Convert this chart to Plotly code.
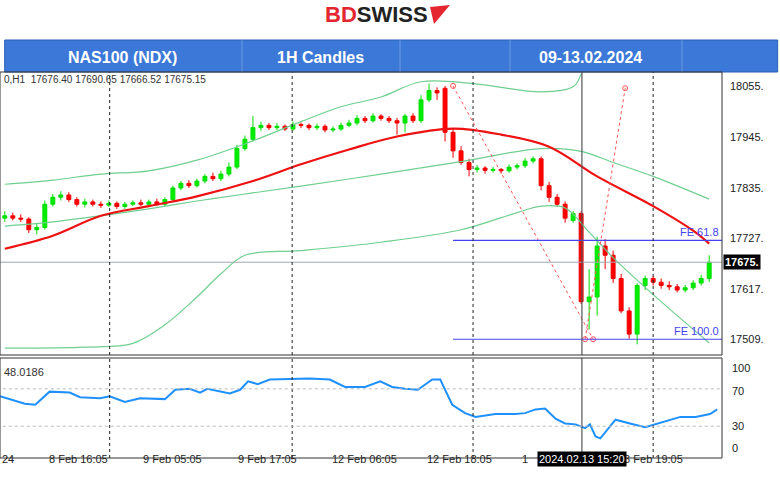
import plotly.graph_objects as go

# ---- candle data (open, high, low, close), 1H NAS100 ----
candles = [
    (17770, 17785, 17762, 17775), (17775, 17782, 17765, 17770), (17770, 17778, 17762, 17768),
    (17768, 17772, 17738, 17745), (17745, 17758, 17735, 17750), (17750, 17808, 17745, 17800),
    (17800, 17822, 17795, 17815), (17815, 17828, 17808, 17820), (17820, 17826, 17805, 17810),
    (17810, 17815, 17795, 17800), (17800, 17812, 17793, 17805), (17805, 17810, 17795, 17800),
    (17800, 17806, 17792, 17798), (17798, 17808, 17794, 17802), (17802, 17806, 17790, 17795),
    (17795, 17805, 17790, 17800), (17800, 17808, 17796, 17803), (17803, 17810, 17796, 17800),
    (17800, 17810, 17795, 17805), (17805, 17812, 17796, 17800), (17800, 17815, 17796, 17810),
    (17810, 17840, 17806, 17835), (17835, 17850, 17830, 17845), (17845, 17852, 17835, 17840),
    (17840, 17855, 17836, 17850), (17850, 17865, 17845, 17860), (17860, 17868, 17850, 17855),
    (17855, 17872, 17850, 17865), (17865, 17890, 17860, 17880), (17880, 17928, 17876, 17920),
    (17920, 17948, 17915, 17940), (17940, 17990, 17935, 17965), (17965, 17978, 17958, 17970),
    (17970, 17975, 17960, 17965), (17965, 17975, 17960, 17968), (17968, 17972, 17958, 17962),
    (17962, 17978, 17958, 17972), (17972, 17976, 17964, 17970), (17970, 17974, 17960, 17965),
    (17965, 17974, 17960, 17968), (17968, 17972, 17955, 17960), (17960, 17968, 17955, 17962),
    (17962, 17976, 17958, 17970), (17970, 17982, 17966, 17975), (17975, 17992, 17970, 17985),
    (17985, 17990, 17975, 17980), (17980, 17996, 17976, 17990), (17990, 17994, 17980, 17985),
    (17985, 17990, 17975, 17980), (17980, 17986, 17950, 17975), (17975, 17995, 17955, 17990),
    (17990, 17996, 17975, 17980), (17980, 18035, 17975, 18025), (18025, 18060, 18020, 18045),
    (18045, 18052, 18025, 18040), (18050, 18055, 17935, 17955), (17955, 17962, 17900, 17915),
    (17915, 17925, 17885, 17890), (17890, 17898, 17860, 17875), (17875, 17885, 17868, 17878),
    (17878, 17882, 17866, 17873), (17873, 17880, 17868, 17875), (17875, 17878, 17866, 17872),
    (17872, 17886, 17868, 17880), (17880, 17888, 17875, 17883), (17883, 17900, 17878, 17893),
    (17893, 17903, 17888, 17898), (17898, 17903, 17830, 17840), (17840, 17848, 17805, 17815),
    (17815, 17822, 17795, 17800), (17800, 17806, 17760, 17770), (17765, 17785, 17760, 17780),
    (17780, 17785, 17585, 17590), (17590, 17660, 17530, 17600), (17600, 17730, 17560, 17710),
    (17710, 17725, 17660, 17690), (17690, 17700, 17630, 17640), (17640, 17650, 17565, 17570),
    (17570, 17578, 17510, 17520), (17520, 17630, 17498, 17625), (17625, 17646, 17615, 17640),
    (17640, 17645, 17625, 17632), (17632, 17640, 17618, 17625), (17625, 17634, 17615, 17622),
    (17622, 17628, 17610, 17615), (17615, 17626, 17610, 17620), (17620, 17636, 17615, 17630),
    (17630, 17648, 17625, 17640), (17640, 17690, 17632, 17675),
]
opens = [c[0] for c in candles]
highs = [c[1] for c in candles]
lows = [c[2] for c in candles]
closes = [c[3] for c in candles]
idx = list(range(len(candles)))

# moving average (red) and bollinger bands (green), sampled at bar indices
ma_x = [0, 6, 12, 18, 24, 31, 37, 43, 49, 56, 62, 68, 74, 81, 86, 88]
ma_y = [17704, 17732, 17775, 17796, 17817, 17850, 17886, 17918, 17946, 17963, 17950, 17924, 17860, 17796, 17743, 17715]
bb_up_x = [0, 6, 12, 18, 24, 30, 37, 42, 47, 52, 59, 67, 71, 72]
bb_up_y = [17843, 17852, 17865, 17872, 17895, 17930, 17978, 18010, 18031, 18064, 18059, 18042, 18053, 18081]
bb_mid_x = [0, 6, 12, 18, 24, 30, 37, 47, 57, 67, 72, 76, 81, 88]
bb_mid_y = [17753, 17762, 17775, 17790, 17807, 17822, 17839, 17865, 17892, 17920, 17914, 17890, 17860, 17811]
bb_low_x = [0, 10, 16, 20, 24, 27, 30, 37, 47, 57, 64, 67, 70, 73, 76, 82, 88]
bb_low_y = [17490, 17492, 17500, 17540, 17600, 17650, 17690, 17700, 17718, 17745, 17782, 17796, 17792, 17740, 17685, 17590, 17501]

# fibonacci expansion
fe_levels = [17722, 17509]
fe_labels = ["FE 61.8", "FE 100.0"]
fib_a_x, fib_a_y = [56, 73.5], [18055, 17509]
fib_b_x, fib_b_y = [72.5, 77.5], [17509, 18050]

# RSI
rsi_x = [-0.6, 2.5, 3.8, 5.6, 8.1, 9.4, 11.9, 13.1, 15, 16.9, 20, 21.3, 23.1, 24.4, 25.3, 28.1,
         29.4, 30.4, 31.6, 33.1, 38.1, 40.6, 42.5, 45, 46.9, 48.4, 50, 51.6, 53.4, 54.4, 55.9,
         57.5, 58.8, 61.3, 63.8, 65, 66.3, 67.5, 68.8, 70, 71.3, 72.5, 73.1, 73.8, 74.4, 76.3,
         78.1, 80, 84.4, 86.3, 88.1, 89]
rsi_y = [62, 54, 53, 67, 66, 61, 60, 62, 56, 60, 59, 69, 70, 66, 70, 65,
         69, 78, 75, 80, 81, 80, 72, 72, 78, 72, 70, 69, 80, 80, 53,
         44, 40, 43, 43, 44, 48, 49, 38, 33, 32, 28, 32, 19, 17, 37,
         33, 29, 40, 40, 43, 48]
rsi_labels = ["100", "70", "30", "0"]
rsi_label_at = [92, 68, 30, 7]

tick_pos = [5.3, 17, 28.9, 40.6, 52.5, 64.4, 76.3]
tick_txt = ["8 Feb 16:05", "9 Feb 05:05", "9 Feb 17:05", "12 Feb 06:05", "12 Feb 18:05", "1", "13 Feb 19:05"]
vlines = [13.1, 35.9, 58.5, 81]
price_ticks = [18055, 17945, 17835, 17727, 17617, 17509]
last_price = 17675
cursor_x = 72.1

FONT = "Liberation Sans"
fig = go.Figure()

band = dict(color="#6fcf8f", width=1.2, shape="spline")
fig.add_trace(go.Scatter(x=bb_up_x, y=bb_up_y, mode="lines", line=band, hoverinfo="skip"))
fig.add_trace(go.Scatter(x=bb_mid_x, y=bb_mid_y, mode="lines", line=band, hoverinfo="skip"))
fig.add_trace(go.Scatter(x=bb_low_x, y=bb_low_y, mode="lines", line=band, hoverinfo="skip"))
fig.add_trace(go.Scatter(x=ma_x, y=ma_y, mode="lines", line=dict(color="#ee1111", width=2.2, shape="spline"), hoverinfo="skip"))

fig.add_trace(go.Candlestick(
    x=idx, open=opens, high=highs, low=lows, close=closes,
    increasing=dict(line=dict(color="#00dd00", width=1), fillcolor="#00ee00"),
    decreasing=dict(line=dict(color="#ee0000", width=1), fillcolor="#ff0000"),
    whiskerwidth=0, hoverinfo="skip"))

fig.add_trace(go.Scatter(x=fib_a_x, y=fib_a_y, mode="lines+markers", line=dict(color="#ff5555", width=1, dash="dot"),
                         marker=dict(symbol="circle-open", size=5, color="#ff5555"), hoverinfo="skip"))
fig.add_trace(go.Scatter(x=fib_b_x, y=fib_b_y, mode="lines+markers", line=dict(color="#ff5555", width=1, dash="dot"),
                         marker=dict(symbol="circle-open", size=5, color="#ff5555"), hoverinfo="skip"))

fig.add_trace(go.Scatter(x=rsi_x, y=rsi_y, mode="lines", line=dict(color="#1e90ff", width=2),
                         xaxis="x2", yaxis="y2", hoverinfo="skip"))

shapes = []
for lv in fe_levels:
    shapes.append(dict(type="line", xref="x", yref="y", x0=56, x1=89.6, y0=lv, y1=lv,
                       line=dict(color="#4444ee", width=1.2)))
shapes.append(dict(type="line", xref="x", yref="y", x0=-1, x1=89.6, y0=last_price, y1=last_price,
                   line=dict(color="#a0a8b0", width=1)))
for v in vlines:
    for ya in ["y", "y2"]:
        shapes.append(dict(type="line", xref="x", yref=ya + " domain", x0=v, x1=v, y0=0, y1=1,
                           line=dict(color="#222", width=1, dash="dot")))
for ya in ["y", "y2"]:
    shapes.append(dict(type="line", xref="x", yref=ya + " domain", x0=cursor_x, x1=cursor_x, y0=0, y1=1,
                       line=dict(color="#555", width=1.2)))
for lv in [70, 30]:
    shapes.append(dict(type="line", xref="x2", yref="y2", x0=-1, x1=89.6, y0=lv, y1=lv,
                       line=dict(color="#bbb", width=1, dash="dot")))
# header bar
shapes.append(dict(type="rect", xref="paper", yref="paper", x0=0.006, x1=0.997, y0=1 - 72 / 483, y1=1 - 40 / 483,
                   fillcolor="#3b78d8", line=dict(color="#2a5fb0", width=1)))
for px in [242, 400, 510, 682]:
    shapes.append(dict(type="line", xref="paper", yref="paper", x0=px / 780, x1=px / 780,
                       y0=1 - 72 / 483, y1=1 - 40 / 483, line=dict(color="#6d9be3", width=1)))
# panel frames
shapes.append(dict(type="rect", xref="paper", yref="paper", x0=0, x1=722 / 780, y0=1 - 355 / 483, y1=1 - 72 / 483,
                   line=dict(color="#333", width=1)))
shapes.append(dict(type="rect", xref="paper", yref="paper", x0=0, x1=722 / 780, y0=1 - 458 / 483, y1=1 - 358 / 483,
                   line=dict(color="#333", width=1)))
# logo flag
shapes.append(dict(type="path", xref="paper", yref="paper",
                   path=f"M {430/780} {1-7/483} L {450/780} {1-5/483} L {434/780} {1-24/483} Z",
                   fillcolor="#e3262f", line=dict(width=0)))

ann = []
ann.append(dict(xref="paper", yref="paper", x=376 / 780, y=1 - 14 / 483, text="<b><span style='color:#e3262f'>BD</span>SWISS</b>",
                showarrow=False, font=dict(family=FONT, size=22, color="#222"), xanchor="center", yanchor="middle"))
for txt, px in [("NAS100 (NDX)", 122), ("1H Candles", 320), ("09-13.02.2024", 590)]:
    ann.append(dict(xref="paper", yref="paper", x=px / 780, y=1 - 57 / 483, text=f"<b>{txt}</b>", showarrow=False,
                    font=dict(family=FONT, size=16, color="white"), xanchor="center", yanchor="middle"))
ann.append(dict(xref="paper", yref="paper", x=0.002, y=1 - 79 / 483, text="0,H1  17676.40 17690.65 17666.52 17675.15",
                showarrow=False, font=dict(family=FONT, size=10, color="#333"), xanchor="left", yanchor="middle"))
ann.append(dict(xref="paper", yref="paper", x=0.002, y=1 - 372 / 483, text="48.0186",
                showarrow=False, font=dict(family=FONT, size=11, color="#333"), xanchor="left", yanchor="middle"))
for lv, lb in zip(fe_levels, fe_labels):
    ann.append(dict(xref="x", yref="y", x=89.5, y=lv, text=lb, showarrow=False, xanchor="right", yanchor="bottom",
                    font=dict(family=FONT, size=11, color="#4444ee")))
for p in price_ticks:
    ann.append(dict(xref="paper", yref="y", x=728 / 780, y=p, text=f"{p}.", showarrow=False, xanchor="left",
                    font=dict(family=FONT, size=11, color="#222")))
ann.append(dict(xref="paper", yref="y", x=723 / 780, y=last_price, text=f"<b>{last_price}.</b>", showarrow=False,
                xanchor="left", bgcolor="#000", font=dict(family=FONT, size=11, color="white")))
for lb, lv in zip(rsi_labels, rsi_label_at):
    ann.append(dict(xref="paper", yref="y2", x=730 / 780, y=lv, text=lb, showarrow=False, xanchor="left",
                    font=dict(family=FONT, size=11, color="#222")))
ann.append(dict(xref="paper", yref="paper", x=0, y=1 - 467 / 483, text="24", showarrow=False, xanchor="left",
                font=dict(family=FONT, size=11, color="#222")))
for tp, tt in zip(tick_pos, tick_txt):
    ann.append(dict(xref="x2", yref="paper", x=tp, y=1 - 467 / 483, text=tt, showarrow=False, xanchor="left",
                    font=dict(family=FONT, size=11, color="#222")))
ann.append(dict(xref="x2", yref="paper", x=cursor_x, y=1 - 467 / 483, text="2024.02.13 15:20", showarrow=False,
                xanchor="center", bgcolor="#000", font=dict(family=FONT, size=11, color="white")))

xr = [-0.6, 89.6]
fig.update_layout(
    width=780, height=483, margin=dict(l=0, r=0, t=0, b=0),
    paper_bgcolor="white", plot_bgcolor="white", showlegend=False,
    xaxis=dict(domain=[0, 722 / 780], range=xr, showticklabels=False, showgrid=False, zeroline=False,
               rangeslider=dict(visible=False), anchor="y"),
    yaxis=dict(domain=[1 - 355 / 483, 1 - 72 / 483], range=[17475, 18085], showticklabels=False,
               showgrid=False, zeroline=False),
    xaxis2=dict(domain=[0, 722 / 780], range=xr, showticklabels=False, showgrid=False, zeroline=False,
                anchor="y2", matches="x"),
    yaxis2=dict(domain=[1 - 458 / 483, 1 - 358 / 483], range=[-4, 103], showticklabels=False,
                showgrid=False, zeroline=False),
    shapes=shapes, annotations=ann,
)

# remove the default page margin so the figure sits at the window's corner
fig.write_html("out.html", config={"displayModeBar": False},
               post_script="document.body.style.margin='0';")
